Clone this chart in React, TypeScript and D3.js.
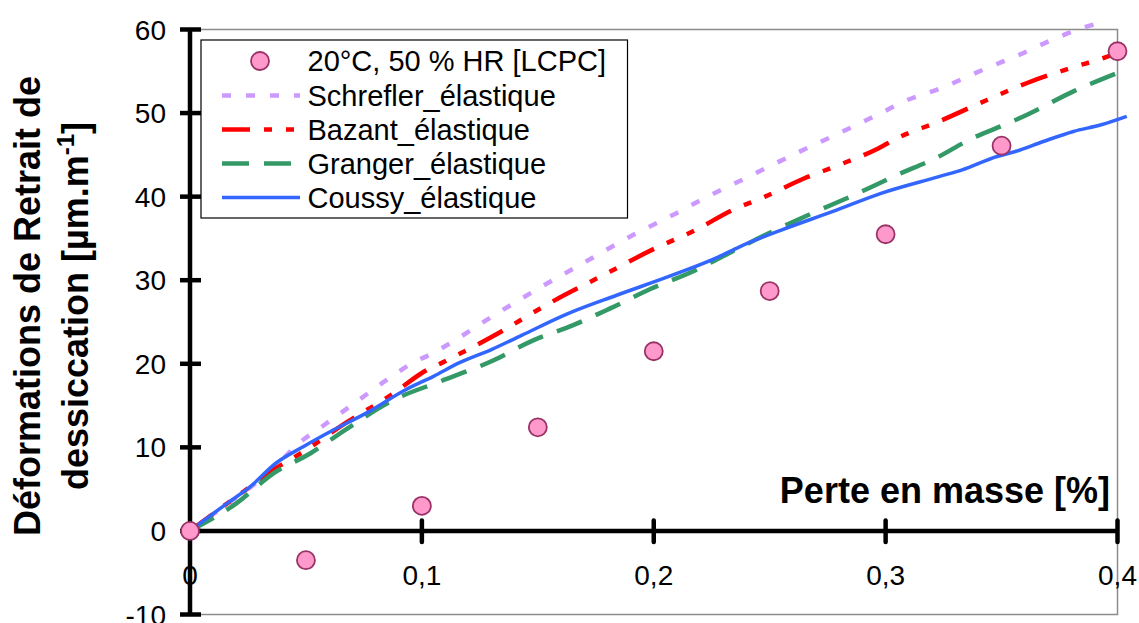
import React from "react";
import * as d3 from "d3";

// ---- Data ----
const massLoss = [0, 0.05, 0.1, 0.15, 0.2, 0.25, 0.3, 0.35, 0.4];
const shrinkage = [0, -3.5, 3.0, 12.4, 21.5, 28.7, 35.5, 46.1, 57.4];

const schreflerX = [0, 0.016, 0.026, 0.037, 0.047, 0.057, 0.073, 0.085, 0.096, 0.105, 0.113, 0.13, 0.149, 0.168, 0.191, 0.211, 0.219, 0.241, 0.26, 0.28, 0.298, 0.308, 0.324, 0.343, 0.357, 0.373, 0.384, 0.395];
const schreflerY = [0, 3.2, 5.2, 7.8, 10.5, 12.5, 15.7, 18.1, 20.1, 21.3, 22.6, 25.6, 28.8, 31.8, 35.4, 38.2, 39.4, 42.4, 45.0, 47.6, 50.0, 51.4, 53.0, 55.3, 56.9, 58.9, 60.1, 61.0];

const bazantX = [0, 0.024, 0.037, 0.049, 0.067, 0.088, 0.1, 0.11, 0.13, 0.156, 0.181, 0.199, 0.218, 0.234, 0.248, 0.265, 0.28, 0.297, 0.305, 0.323, 0.344, 0.361, 0.381, 0.393, 0.4];
const bazantY = [0, 4.9, 7.5, 9.5, 12.9, 16.5, 18.9, 20.3, 23.2, 27.4, 31.0, 33.6, 36.0, 38.4, 40.0, 42.2, 43.8, 45.8, 47.0, 49.0, 51.6, 53.6, 55.5, 56.5, 57.2];

const grangerX = [0, 0.02, 0.036, 0.052, 0.067, 0.088, 0.108, 0.13, 0.148, 0.165, 0.181, 0.199, 0.218, 0.228, 0.248, 0.265, 0.288, 0.305, 0.323, 0.336, 0.353, 0.361, 0.381, 0.399];
const grangerY = [0, 3.3, 6.9, 9.3, 12.1, 15.7, 17.9, 20.3, 22.8, 24.6, 26.6, 29.0, 31.2, 32.6, 35.4, 37.6, 40.4, 42.6, 44.8, 46.8, 48.8, 49.8, 52.6, 54.7];

const coussyX = [0, 0.016, 0.026, 0.037, 0.049, 0.062, 0.076, 0.093, 0.105, 0.116, 0.13, 0.143, 0.163, 0.184, 0.208, 0.228, 0.237, 0.255, 0.277, 0.298, 0.323, 0.333, 0.348, 0.356, 0.368, 0.381, 0.393, 0.404];
const coussyY = [0, 3.3, 5.3, 8.1, 10.1, 12.1, 14.1, 16.9, 18.5, 20.1, 21.7, 23.4, 26.0, 28.2, 30.6, 32.8, 34.0, 36.0, 38.2, 40.4, 42.4, 43.2, 44.8, 45.4, 46.6, 47.8, 48.6, 49.6];

const yTicks = [-10, 0, 10, 20, 30, 40, 50, 60];
const xTicks = [0, 0.1, 0.2, 0.3, 0.4];
const xTickLabels = ["0", "0,1", "0,2", "0,3", "0,4"];

const seriesNames = ["Schrefler_élastique", "Bazant_élastique", "Granger_élastique", "Coussy_élastique"];
const markerName = "20°C, 50 % HR [LCPC]";
const xTitle = "Perte en masse [%]";
const yTitle1 = "Déformations de Retrait de";
const yTitle2a = "dessiccation [µm.m";
const yTitle2sup = "-1";
const yTitle2b = "]";

// ---- Styles ----
const FONT = "'Liberation Sans', Arial, sans-serif";
const styles = [
  { color: "#cc99ff", dash: "9,15", width: 4.5 },
  { color: "#ff0000", dash: "28,14,8,14,8,14", width: 4.5 },
  { color: "#339966", dash: "27,15", width: 4.5 },
  { color: "#3366ff", dash: "", width: 3.5 },
];

export default function App() {
  const x = d3.scaleLinear().domain([0, 0.4]).range([190, 1117.5]);
  const y = d3.scaleLinear().domain([-10, 60]).range([614.5, 29.5]);
  const line = d3
    .line<[number, number]>()
    .x((d) => x(d[0]))
    .y((d) => y(d[1]))
    .curve(d3.curveMonotoneX);

  const series = [
    d3.zip(schreflerX, schreflerY) as [number, number][],
    d3.zip(bazantX, bazantY) as [number, number][],
    d3.zip(grangerX, grangerY) as [number, number][],
    d3.zip(coussyX, coussyY) as [number, number][],
  ];

  const y0 = y(0);
  const legendRows = [61, 95.5, 129.5, 163.5, 197.5];

  return (
    <svg
      width={1139}
      height={623}
      style={{ position: "fixed", left: 0, top: 0, background: "#fff" }}
      fontFamily={FONT}
    >
      <rect x={0} y={0} width={1139} height={623} fill="#fff" />
      {/* plot area border */}
      <rect x={x(0)} y={y(60)} width={x(0.4) - x(0)} height={y(-10) - y(60)} fill="none" stroke="#8c8c8c" strokeWidth={1.5} />

      {/* series */}
      {series.map((s, i) => (
        <path
          key={i}
          d={line(s) || ""}
          fill="none"
          stroke={styles[i].color}
          strokeWidth={styles[i].width}
          strokeDasharray={styles[i].dash || undefined}
        />
      ))}

      {/* axes */}
      <line x1={x(0)} x2={x(0)} y1={y(-10)} y2={y(60)} stroke="#000" strokeWidth={4.5} />
      <line x1={x(0)} x2={x(0.4)} y1={y0} y2={y0} stroke="#000" strokeWidth={4.5} />
      {yTicks.map((t) => (
        <g key={"y" + t}>
          <line x1={180} x2={201} y1={y(t)} y2={y(t)} stroke="#000" strokeWidth={4.5} />
          <text x={166} y={y(t) + 10} textAnchor="end" fontSize={28}>
            {String(t)}
          </text>
        </g>
      ))}
      {xTicks.map((t, i) => (
        <g key={"x" + t}>
          {t > 0 && <line x1={x(t)} x2={x(t)} y1={y0 - 10.5} y2={y0 + 11} stroke="#000" strokeWidth={4.5} strokeLinecap="round" />}
          <text x={x(t)} y={585} textAnchor="middle" fontSize={28}>
            {xTickLabels[i]}
          </text>
        </g>
      ))}

      {/* measured markers */}
      {massLoss.map((m, i) => (
        <circle key={"m" + i} cx={x(m)} cy={y(shrinkage[i])} r={9} fill="#ff99cc" stroke="#993366" strokeWidth={1.8} />
      ))}

      {/* axis titles */}
      <text x={1110} y={503} textAnchor="end" fontSize={36} fontWeight="bold">
        {xTitle}
      </text>
      <text transform="translate(40,306) rotate(-90)" textAnchor="middle" fontSize={36} fontWeight="bold">
        {yTitle1}
      </text>
      <text transform="translate(87.5,306) rotate(-90)" textAnchor="middle" fontSize={36} fontWeight="bold">
        {yTitle2a}
        <tspan fontSize={24} dy={-14}>{yTitle2sup}</tspan>
        <tspan dy={14}>{yTitle2b}</tspan>
      </text>

      {/* legend */}
      <rect x={201} y={40} width={426.5} height={178} fill="#fff" stroke="#000" strokeWidth={1.2} />
      <circle cx={260} cy={legendRows[0]} r={9} fill="#ff99cc" stroke="#993366" strokeWidth={1.8} />
      <text x={307.5} y={legendRows[0] + 10.4} fontSize={29}>
        {markerName}
      </text>
      {seriesNames.map((n, i) => (
        <g key={n}>
          <line
            x1={222}
            x2={300}
            y1={legendRows[i + 1]}
            y2={legendRows[i + 1]}
            stroke={styles[i].color}
            strokeWidth={styles[i].width}
            strokeDasharray={styles[i].dash || undefined}
          />
          <text x={307.5} y={legendRows[i + 1] + 10.4} fontSize={29}>
            {n}
          </text>
        </g>
      ))}
    </svg>
  );
}
